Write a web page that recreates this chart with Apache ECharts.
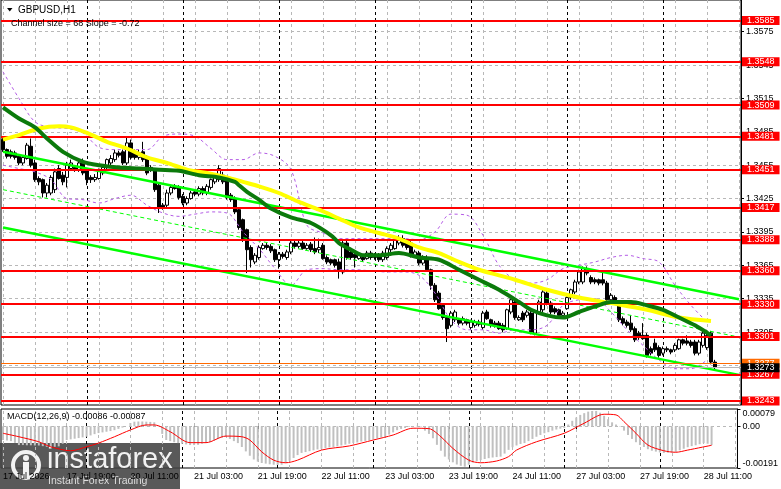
<!DOCTYPE html>
<html>
<head>
<meta charset="utf-8">
<title>GBPUSD H1</title>
<script src="https://cdn.jsdelivr.net/npm/echarts@6.0.0/dist/echarts.min.js"></script>
<style>
html,body{margin:0;padding:0;background:#ffffff;overflow:hidden;}
#chart{width:781px;height:489px;}
</style>
</head>
<body>
<div id="chart"></div>
<script>
// ---------- texts ----------
const symbolTitle = 'GBPUSD,H1';
const channelText = 'Channel size = 68 Slope = -0.72';
const macdTitle = 'MACD(12,26,9) -0.00086 -0.00087';

// ---------- hourly candles (17 Jul 03:00 .. 28 Jul 13:00) ----------
const openP = [
1.3478,1.3469,1.3467,1.3466,1.3463,1.3457,1.3461,1.3472,1.3457,1.3443,
1.3442,1.3430,1.3430,1.3433,1.3452,1.3446,1.3444,1.3452,1.3453,1.3451,
1.3458,1.3451,1.3444,1.3442,1.3443,1.3448,1.3453,1.3457,1.3460,1.3466,
1.3467,1.3457,1.3475,1.3467,1.3462,1.3467,1.3462,1.3453,1.3451,1.3437,
1.3419,1.3419,1.3430,1.3436,1.3435,1.3427,1.3421,1.3425,1.3431,1.3429,
1.3434,1.3430,1.3435,1.3440,1.3442,1.3446,1.3443,1.3428,1.3425,1.3415,
1.3406,1.3397,1.3381,1.3368,1.3372,1.3380,1.3383,1.3382,1.3379,1.3370,
1.3375,1.3372,1.3377,1.3385,1.3382,1.3385,1.3380,1.3384,1.3380,1.3379,
1.3383,1.3372,1.3370,1.3370,1.3368,1.3359,1.3385,1.3377,1.3375,1.3371,
1.3372,1.3371,1.3376,1.3372,1.3374,1.3370,1.3372,1.3379,1.3380,1.3385,
1.3389,1.3386,1.3385,1.3374,1.3376,1.3367,1.3372,1.3361,1.3347,1.3340,
1.3329,1.3318,1.3311,1.3316,1.3316,1.3313,1.3316,1.3309,1.3311,1.3314,
1.3309,1.3323,1.3316,1.3313,1.3313,1.3311,1.3308,1.3323,1.3332,1.3316,
1.3322,1.3320,1.3322,1.3304,1.3323,1.3325,1.3340,1.3331,1.3326,1.3325,
1.3320,1.3326,1.3336,1.3341,1.3350,1.3350,1.3362,1.3354,1.3352,1.3352,
1.3352,1.3349,1.3334,1.3336,1.3329,1.3317,1.3314,1.3313,1.3308,1.3304,
1.3302,1.3302,1.3290,1.3295,1.3291,1.3286,1.3290,1.3289,1.3289,1.3290,
1.3298,1.3297,1.3296,1.3296,1.3286,1.3293,1.3291,1.3304,1.3278];
const closeP = [
1.3469,1.3463,1.3463,1.3462,1.3457,1.3462,1.3473,1.3455,1.3442,1.3440,
1.3430,1.3437,1.3444,1.3449,1.3443,1.3440,1.3455,1.3457,1.3451,1.3457,
1.3448,1.3442,1.3442,1.3444,1.3451,1.3453,1.3460,1.3461,1.3466,1.3464,
1.3457,1.3475,1.3462,1.3462,1.3466,1.3460,1.3448,1.3451,1.3433,1.3416,
1.3416,1.3430,1.3435,1.3434,1.3426,1.3421,1.3425,1.3430,1.3429,1.3434,
1.3430,1.3436,1.3442,1.3444,1.3452,1.3440,1.3426,1.3424,1.3413,1.3399,
1.3388,1.3379,1.3370,1.3374,1.3381,1.3383,1.3381,1.3378,1.3370,1.3375,
1.3373,1.3377,1.3385,1.3382,1.3385,1.3380,1.3383,1.3379,1.3377,1.3381,
1.3371,1.3368,1.3367,1.3365,1.3361,1.3385,1.3372,1.3372,1.3372,1.3374,
1.3370,1.3376,1.3372,1.3374,1.3370,1.3376,1.3380,1.3383,1.3388,1.3389,
1.3383,1.3381,1.3374,1.3377,1.3367,1.3372,1.3361,1.3347,1.3334,1.3326,
1.3318,1.3308,1.3322,1.3323,1.3313,1.3317,1.3313,1.3314,1.3314,1.3312,
1.3322,1.3317,1.3311,1.3311,1.3308,1.3307,1.3325,1.3334,1.3318,1.3318,
1.3316,1.3323,1.3305,1.3323,1.3332,1.3341,1.3331,1.3323,1.3323,1.3320,
1.3322,1.3336,1.3343,1.3350,1.3359,1.3362,1.3358,1.3350,1.3350,1.3349,
1.3349,1.3334,1.3338,1.3332,1.3316,1.3313,1.3311,1.3307,1.3298,1.3300,
1.3299,1.3284,1.3286,1.3289,1.3284,1.3290,1.3289,1.3287,1.3293,1.3298,
1.3295,1.3295,1.3293,1.3286,1.3296,1.3304,1.3302,1.3278,1.3273];
const highP = [
1.3480,1.3470,1.3469,1.3468,1.3465,1.3464,1.3475,1.3479,1.3460,1.3445,
1.3443,1.3439,1.3446,1.3452,1.3455,1.3449,1.3458,1.3460,1.3455,1.3460,
1.3461,1.3452,1.3446,1.3447,1.3452,1.3455,1.3461,1.3464,1.3469,1.3468,
1.3469,1.3480,1.3478,1.3469,1.3469,1.3476,1.3464,1.3455,1.3452,1.3439,
1.3421,1.3433,1.3437,1.3438,1.3437,1.3429,1.3427,1.3432,1.3433,1.3436,
1.3436,1.3438,1.3443,1.3446,1.3455,1.3449,1.3445,1.3430,1.3427,1.3416,
1.3407,1.3398,1.3383,1.3376,1.3383,1.3385,1.3385,1.3384,1.3380,1.3377,
1.3377,1.3379,1.3387,1.3387,1.3387,1.3387,1.3385,1.3386,1.3390,1.3389,
1.3385,1.3374,1.3371,1.3371,1.3371,1.3388,1.3387,1.3379,1.3377,1.3376,
1.3374,1.3378,1.3378,1.3376,1.3376,1.3378,1.3382,1.3385,1.3389,1.3392,
1.3392,1.3388,1.3387,1.3379,1.3378,1.3374,1.3374,1.3362,1.3349,1.3342,
1.3331,1.3320,1.3324,1.3325,1.3317,1.3319,1.3317,1.3316,1.3316,1.3316,
1.3324,1.3325,1.3317,1.3315,1.3315,1.3313,1.3326,1.3335,1.3334,1.3320,
1.3324,1.3325,1.3324,1.3325,1.3334,1.3343,1.3342,1.3333,1.3328,1.3326,
1.3324,1.3338,1.3344,1.3352,1.3361,1.3364,1.3364,1.3356,1.3354,1.3353,
1.3359,1.3351,1.3340,1.3338,1.3331,1.3319,1.3316,1.3320,1.3310,1.3306,
1.3313,1.3304,1.3292,1.3299,1.3293,1.3292,1.3292,1.3290,1.3295,1.3299,
1.3299,1.3302,1.3298,1.3298,1.3298,1.3306,1.3307,1.3306,1.3280];
const lowP = [
1.3467,1.3461,1.3461,1.3460,1.3455,1.3455,1.3460,1.3453,1.3440,1.3437,
1.3426,1.3426,1.3428,1.3430,1.3442,1.3437,1.3435,1.3451,1.3449,1.3449,
1.3446,1.3437,1.3439,1.3440,1.3442,1.3446,1.3451,1.3455,1.3458,1.3462,
1.3455,1.3455,1.3460,1.3460,1.3460,1.3458,1.3446,1.3449,1.3431,1.3412,
1.3415,1.3417,1.3428,1.3433,1.3424,1.3419,1.3419,1.3424,1.3427,1.3427,
1.3428,1.3428,1.3433,1.3438,1.3440,1.3438,1.3424,1.3422,1.3411,1.3397,
1.3386,1.3358,1.3363,1.3366,1.3370,1.3379,1.3379,1.3376,1.3368,1.3362,
1.3371,1.3370,1.3375,1.3380,1.3380,1.3379,1.3379,1.3377,1.3375,1.3376,
1.3370,1.3366,1.3365,1.3363,1.3353,1.3357,1.3370,1.3370,1.3363,1.3370,
1.3368,1.3370,1.3370,1.3370,1.3368,1.3368,1.3370,1.3377,1.3379,1.3383,
1.3381,1.3379,1.3372,1.3372,1.3365,1.3365,1.3359,1.3343,1.3332,1.3325,
1.3316,1.3296,1.3309,1.3314,1.3311,1.3311,1.3311,1.3307,1.3309,1.3310,
1.3307,1.3316,1.3309,1.3309,1.3307,1.3305,1.3307,1.3321,1.3316,1.3315,
1.3314,1.3318,1.3303,1.3302,1.3321,1.3323,1.3329,1.3321,1.3321,1.3318,
1.3318,1.3325,1.3334,1.3339,1.3348,1.3348,1.3356,1.3348,1.3348,1.3347,
1.3347,1.3332,1.3332,1.3330,1.3314,1.3311,1.3309,1.3305,1.3296,1.3298,
1.3298,1.3282,1.3284,1.3287,1.3282,1.3284,1.3287,1.3285,1.3287,1.3289,
1.3293,1.3293,1.3291,1.3284,1.3284,1.3291,1.3289,1.3276,1.3271];

// ---------- moving averages (read at sample bars) ----------
const fastIdx = [0,4,8,11,15,20,24,29,34,39,44,49,54,58,59,61,64,67,72,77,82,84,87,90,94,99,104,109,114,119,124,129,132,136,140,144,148,152,157,161,165,169,173,177];
const fastVal = [1.3507,1.3497,1.3489,1.3479,1.3467,1.3458,1.3455,1.3453,1.3452,1.3451,1.3450,1.3446,1.3444,1.3440,1.3437,1.3431,1.3424,1.3416,1.3408,1.3403,1.3392,1.3385,1.3379,1.3374,1.3374,1.3376,1.3372,1.3370,1.3361,1.3352,1.3343,1.3332,1.3325,1.3320,1.3318,1.3323,1.3328,1.3332,1.3332,1.3329,1.3325,1.3318,1.3311,1.3302];
const slowIdx = [0,4,9,14,17,21,26,31,36,41,46,51,56,60,64,69,74,79,84,89,94,99,104,109,114,119,124,128,136,144,152,161,169,177];
const slowVal = [1.3478,1.3482,1.3488,1.3490,1.3489,1.3484,1.3476,1.3470,1.3462,1.3457,1.3451,1.3448,1.3444,1.3440,1.3436,1.3430,1.3422,1.3415,1.3407,1.3399,1.3394,1.3389,1.3381,1.3376,1.3368,1.3361,1.3356,1.3352,1.3343,1.3336,1.3331,1.3325,1.3318,1.3315];

// ---------- bands (dashed purple), every 4 bars ----------
const bandIdx = [0,4,8,12,16,20,24,28,32,36,40,44,48,52,56,60,64,68,72,76,80,84,88,92,96,100,104,108,112,116,120,124,128,132,136,140,144,148,152,156,160,164,168,172,176];
const upperBand = [1.3539,1.3515,1.3494,1.3489,1.3488,1.3484,1.3471,1.3469,1.3469,1.3469,1.3481,1.3483,1.3481,1.3470,1.3460,1.3460,1.3466,1.3463,1.3451,1.3401,1.3394,1.3389,1.3389,1.3389,1.3389,1.3389,1.3388,1.3395,1.3411,1.3410,1.3392,1.3365,1.3352,1.3349,1.3352,1.3362,1.3365,1.3368,1.3372,1.3374,1.3371,1.3368,1.3347,1.3329,1.3314];
const lowerBand = [1.3455,1.3452,1.3449,1.3442,1.3425,1.3424,1.3421,1.3425,1.3428,1.3419,1.3412,1.3409,1.3411,1.3413,1.3412,1.3395,1.3380,1.3362,1.3347,1.3361,1.3362,1.3361,1.3361,1.3360,1.3359,1.3359,1.3356,1.3340,1.3316,1.3307,1.3307,1.3304,1.3307,1.3307,1.3311,1.3329,1.3334,1.3335,1.3323,1.3307,1.3293,1.3280,1.3272,1.3272,1.3280];

// ---------- regression channel (size 68, slope -0.72) ----------
const chanIdx = [0, 184];
const chanUpper = [1.3467, 1.33345];
const chanMiddle = [1.3433, 1.33005];
const chanLower = [1.3399, 1.32665];

// ---------- levels ----------
const levels = [1.3585,1.3548,1.3509,1.3481,1.3451,1.3417,1.3388,1.3360,1.3330,1.3301,1.3267,1.3243];
const orangeLevel = 1.3277;
const bidLevel = 1.3273;
const priceTicks = [1.3275,1.3305,1.3335,1.3365,1.3395,1.3425,1.3455,1.3485,1.3515,1.3545,1.3575];

// ---------- time axis ----------
const dayStartIdx = [21,45,69,93,117,141,165];
const timeTickIdx = [0,16,32,48,64,80,96,112,128,144,160,176];
const timeTickLabels = ['17 Jul 2026','17 Jul 19:00','20 Jul 11:00','21 Jul 03:00','21 Jul 19:00','22 Jul 11:00','23 Jul 03:00','23 Jul 19:00','24 Jul 11:00','27 Jul 03:00','27 Jul 19:00','28 Jul 11:00'];

// ---------- MACD ----------
const macdHist = [
-0.00063,-0.00065,-0.00068,-0.00076,-0.00086,-0.00086,-0.00087,-0.00087,-0.00088,-0.00088,
-0.00091,-0.00094,-0.00094,-0.00094,-0.00092,-0.00080,-0.00063,-0.00060,-0.00057,-0.00054,
-0.00051,-0.00048,-0.00042,-0.00036,-0.00031,-0.00028,-0.00025,-0.00022,-0.00018,-0.00012,
-0.00006,0.00000,0.00015,0.00021,0.00022,0.00022,0.00021,0.00020,0.00018,0.00002,
-0.00035,-0.00063,-0.00068,-0.00073,-0.00077,-0.00080,-0.00083,-0.00086,-0.00086,-0.00085,
-0.00080,-0.00076,-0.00072,-0.00065,-0.00058,-0.00052,-0.00048,-0.00058,-0.00068,-0.00077,
-0.00095,-0.00115,-0.00135,-0.00152,-0.00162,-0.00168,-0.00171,-0.00174,-0.00176,-0.00177,
-0.00176,-0.00168,-0.00158,-0.00145,-0.00132,-0.00122,-0.00118,-0.00114,-0.00110,-0.00106,
-0.00103,-0.00100,-0.00097,-0.00095,-0.00092,-0.00088,-0.00084,-0.00080,-0.00077,-0.00074,
-0.00070,-0.00067,-0.00064,-0.00060,-0.00055,-0.00051,-0.00048,-0.00038,-0.00028,-0.00018,
-0.00012,-0.00008,-0.00003,0.00001,0.00002,-0.00002,-0.00020,-0.00035,-0.00055,-0.00085,
-0.00112,-0.00139,-0.00152,-0.00165,-0.00175,-0.00181,-0.00185,-0.00176,-0.00166,-0.00160,
-0.00155,-0.00150,-0.00146,-0.00143,-0.00141,-0.00139,-0.00125,-0.00108,-0.00096,-0.00088,
-0.00081,-0.00077,-0.00068,-0.00058,-0.00048,-0.00040,-0.00032,-0.00027,-0.00020,-0.00015,
-0.00011,-0.00008,0.00008,0.00025,0.00040,0.00052,0.00060,0.00067,0.00070,0.00070,
0.00062,0.00048,0.00032,0.00018,0.00008,-0.00002,-0.00020,-0.00040,-0.00058,-0.00073,
-0.00086,-0.00095,-0.00105,-0.00112,-0.00116,-0.00120,-0.00122,-0.00121,-0.00120,-0.00117,
-0.00110,-0.00103,-0.00096,-0.00091,-0.00087,-0.00082,-0.00077,-0.00080,-0.00086];
const sigIdx = [0,4,9,12,17,21,24,28,32,36,38,42,47,51,56,60,62,65,68,71,74,80,87,93,98,103,107,110,113,117,120,124,127,129,134,141,146,151,154,156,159,162,166,169,172,178];
const sigVal = [-0.00032,-0.00048,-0.00071,-0.00094,-0.00112,-0.00094,-0.00077,-0.00048,-0.00017,0.00006,0.00006,-0.00025,-0.00075,-0.00075,-0.00045,-0.00048,-0.00063,-0.00117,-0.00155,-0.00167,-0.00155,-0.00109,-0.00090,-0.00063,-0.00040,-0.00009,-0.00011,-0.00048,-0.00101,-0.00155,-0.00167,-0.00159,-0.00139,-0.00109,-0.00071,-0.00032,0.00014,0.00055,0.00052,0.00021,-0.00032,-0.00086,-0.00112,-0.00119,-0.00109,-0.00087];
const macdTicks = [-0.00191, 0, 0.00079];

// ---------- build ----------
const SLOTS = 185;
const FONT = '"Liberation Sans", Arial, sans-serif';
const cats = [];
for (let i = 0; i < SLOTS; i++) cats.push('b' + i);
const pairs = (xs, ys) => xs.map((x, k) => [x, ys[k]]);
const candleData = openP.map((o, i) => [o, closeP[i], lowP[i], highP[i]]);

const gridLineStyle = () => ({color: '#b8b8b8', type: [3, 3], width: 1});
const dayLineStyle = () => ({color: '#000000', type: [3, 3], width: 1});

const vGrid = [];
for (let i = 0; i < SLOTS; i += 8) vGrid.push({xAxis: i, lineStyle: gridLineStyle()});
const dayLines = dayStartIdx.map(i => ({xAxis: i, lineStyle: dayLineStyle()}));
// horizontal grid lines as two-point segments across the plot
const hGrid = priceTicks.map(v => [{coord: [0, v], lineStyle: gridLineStyle()}, {coord: [SLOTS - 1, v]}]);
const macdZero = [{coord: [0, 0], lineStyle: gridLineStyle()}, {coord: [SLOTS - 1, 0]}];

const levelLines = levels.map(v => ({yAxis: v, label: {formatter: v.toFixed(4)}}));
levelLines.push({yAxis: orangeLevel, lineStyle: {color: '#ff6a00', width: 1, type: 'solid'},
  label: {formatter: orangeLevel.toFixed(4), backgroundColor: '#ff6a00'}});
levelLines.push({yAxis: bidLevel, lineStyle: {color: '#b8b8b8', width: 1, type: 'solid'},
  label: {formatter: bidLevel.toFixed(4), backgroundColor: '#000000'}});

const option = {
  animation: false,
  backgroundColor: '#ffffff',
  textStyle: {fontFamily: FONT},
  grid: [
    {left: 1, top: 0, width: 740, height: 405, show: true, borderColor: '#000', borderWidth: 1},
    {left: 1, top: 409, width: 740, height: 59, show: true, borderColor: '#000', borderWidth: 1}
  ],
  xAxis: [
    {type: 'category', gridIndex: 0, data: cats, boundaryGap: true,
     axisLine: {show: false}, axisTick: {show: false}, axisLabel: {show: false}, splitLine: {show: false}},
    {type: 'category', gridIndex: 1, data: cats, boundaryGap: true,
     axisLine: {show: false},
     axisTick: {show: true, alignWithLabel: true, length: 3, lineStyle: {color: '#000'},
                interval: (i) => timeTickIdx.indexOf(i) >= 0},
     axisLabel: {show: true, interval: (i) => timeTickIdx.indexOf(i) >= 0,
                 formatter: (v, i) => { const k = timeTickIdx.indexOf(i); return k >= 0 ? timeTickLabels[k] : ''; },
                 align: 'left', fontSize: 9, color: '#000', margin: 4, fontFamily: FONT},
     splitLine: {show: false}}
  ],
  yAxis: [
    {type: 'value', gridIndex: 0, position: 'right', min: 1.32394, max: 1.36035,
     axisLine: {show: true, lineStyle: {color: '#000'}},
     axisTick: {show: true, length: 3, lineStyle: {color: '#000'}, customValues: priceTicks},
     axisLabel: {show: true, customValues: priceTicks, formatter: v => v.toFixed(4), fontSize: 9, color: '#000', margin: 5, fontFamily: FONT},
     splitLine: {show: false}},
    {type: 'value', gridIndex: 1, position: 'right', min: -0.00191, max: 0.00079,
     axisLine: {show: true, lineStyle: {color: '#000'}},
     axisTick: {show: true, length: 3, lineStyle: {color: '#000'}, customValues: macdTicks},
     axisLabel: {show: true, customValues: macdTicks,
                 formatter: v => (Math.abs(v) < 1e-9 ? '0.00' : v.toFixed(5)),
                 verticalAlignMinLabel: 'bottom', verticalAlignMaxLabel: 'top',
                 fontSize: 9, color: '#000', margin: 5, fontFamily: FONT},
     splitLine: {show: false}}
  ],
  series: [
    {type: 'candlestick', name: 'GBPUSD', xAxisIndex: 0, yAxisIndex: 0, data: candleData, z: 3,
     barWidth: 3,
     itemStyle: {color: '#ffffff', color0: '#000000', borderColor: '#000000', borderColor0: '#000000', borderWidth: 1}},
    {type: 'line', name: 'Upper band', xAxisIndex: 0, yAxisIndex: 0, data: pairs(bandIdx, upperBand), z: 4,
     symbol: 'none', smooth: 0.35, lineStyle: {color: '#b45ce6', width: 1, type: [3, 3]}},
    {type: 'line', name: 'Lower band', xAxisIndex: 0, yAxisIndex: 0, data: pairs(bandIdx, lowerBand), z: 4,
     symbol: 'none', smooth: 0.35, lineStyle: {color: '#b45ce6', width: 1, type: [3, 3]}},
    {type: 'line', name: 'Channel middle', xAxisIndex: 0, yAxisIndex: 0, data: pairs(chanIdx, chanMiddle), z: 5,
     symbol: 'none', lineStyle: {color: '#00ff00', width: 1, type: [4, 3]},
     markLine: {z: 1, silent: true, animation: false, precision: 6, symbol: ['none', 'none'], label: {show: false},
                data: hGrid.concat(vGrid).concat(dayLines)}},
    {type: 'line', name: 'Channel lower', xAxisIndex: 0, yAxisIndex: 0, data: pairs(chanIdx, chanLower), z: 5,
     symbol: 'none', lineStyle: {color: '#00ff00', width: 2.5}},
    {type: 'line', name: 'Channel upper', xAxisIndex: 0, yAxisIndex: 0, data: pairs(chanIdx, chanUpper), z: 5,
     symbol: 'none', lineStyle: {color: '#00ff00', width: 2.5},
     markLine: {z: 7, silent: true, animation: false, precision: 6, symbol: ['none', 'none'],
                lineStyle: {color: '#ff0000', width: 2, type: 'solid'},
                label: {show: true, position: 'end', distance: 1, color: '#ffffff', backgroundColor: '#ff0000',
                        padding: [0, 5, 0, 5], fontSize: 9, lineHeight: 9, fontFamily: FONT},
                data: levelLines}},
    {type: 'line', name: 'Slow MA', xAxisIndex: 0, yAxisIndex: 0, data: pairs(slowIdx, slowVal), z: 8,
     symbol: 'none', smooth: 0.3, lineStyle: {color: '#ffff00', width: 4}},
    {type: 'line', name: 'Fast MA', xAxisIndex: 0, yAxisIndex: 0, data: pairs(fastIdx, fastVal), z: 8,
     symbol: 'none', smooth: 0.3, lineStyle: {color: '#0b7a0b', width: 4}},
    {type: 'bar', name: 'MACD', xAxisIndex: 1, yAxisIndex: 1, data: macdHist, barWidth: 2, z: 2,
     itemStyle: {color: '#c0c0c0'}},
    {type: 'line', name: 'Signal', xAxisIndex: 1, yAxisIndex: 1, data: pairs(sigIdx, sigVal), z: 3,
     symbol: 'none', smooth: 0.3, lineStyle: {color: '#ff0000', width: 1},
     markLine: {z: 1, silent: true, animation: false, precision: 6, symbol: ['none', 'none'], label: {show: false},
                data: [macdZero].concat(
                  vGrid.map(d => ({xAxis: d.xAxis, lineStyle: gridLineStyle()})),
                  dayLines.map(d => ({xAxis: d.xAxis, lineStyle: dayLineStyle()})))}}
  ],
  graphic: [
    {type: 'polygon', z: 100, shape: {points: [[7, 8], [12.5, 8], [9.75, 11.5]]}, style: {fill: '#000'}},
    {type: 'text', z: 100, x: 18, y: 10, style: {text: symbolTitle, fontSize: 10, fontFamily: FONT, fill: '#000', verticalAlign: 'middle'}},
    {type: 'text', z: 100, x: 11, y: 24, style: {text: channelText, fontSize: 9, fontFamily: FONT, fill: '#000', verticalAlign: 'middle'}},
    {type: 'text', z: 100, x: 7, y: 417, style: {text: macdTitle, fontSize: 9, fontFamily: FONT, fill: '#000', verticalAlign: 'middle'}},
    {type: 'group', z: 200, children: [
      {type: 'rect', shape: {x: 0, y: 443, width: 180, height: 46}, style: {fill: 'rgba(66,66,66,0.88)'}},
      {type: 'circle', shape: {cx: 26, cy: 465, r: 13}, style: {fill: 'none', stroke: '#f2f2f2', lineWidth: 4}},
      {type: 'circle', shape: {cx: 26, cy: 458, r: 3}, style: {fill: '#f2f2f2'}},
      {type: 'rect', shape: {x: 23, y: 462, width: 6, height: 16}, style: {fill: '#f2f2f2'}},
      {type: 'text', x: 47, y: 460, style: {text: 'instaforex', fontSize: 29, fontFamily: FONT, fill: '#f2f2f2', verticalAlign: 'middle'}},
      {type: 'text', x: 48, y: 481, style: {text: 'Instant Forex Trading', fontSize: 10.5, fontFamily: FONT, fill: '#dddddd', verticalAlign: 'middle'}}
    ]}
  ]
};

const chart = echarts.init(document.getElementById('chart'), null, {renderer: 'canvas', width: 781, height: 489});
chart.setOption(option);
</script>
</body>
</html>
